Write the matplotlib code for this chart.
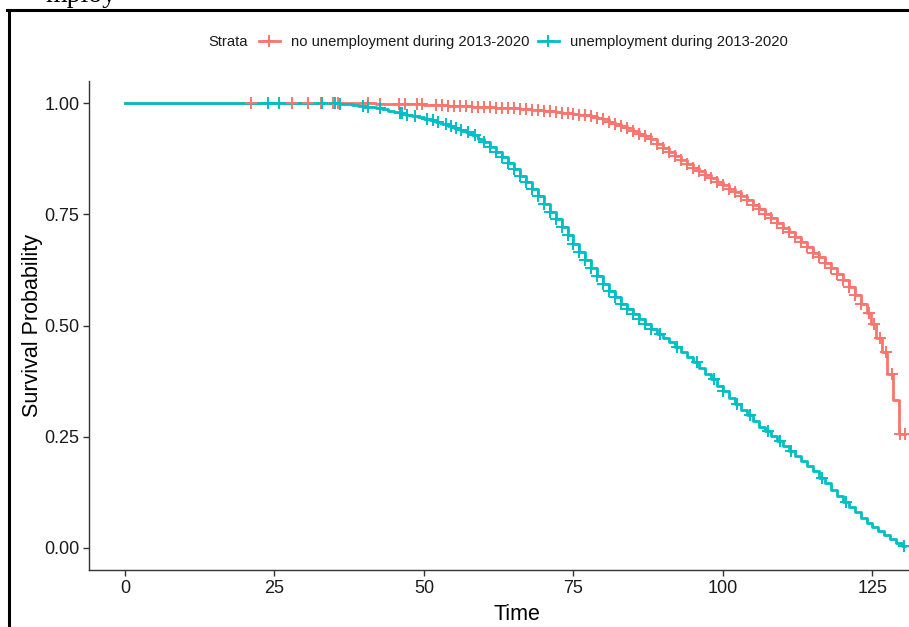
import numpy as np
import matplotlib
matplotlib.use("Agg")
import matplotlib.pyplot as plt
from matplotlib.lines import Line2D

plt.rcParams['font.family'] = ['Liberation Sans', 'DejaVu Sans']

# ---------------- data ----------------
strata_labels = ["no unemployment during 2013-2020", "unemployment during 2013-2020"]
colors = ["#F8766D", "#00BFC4"]

# group 1: no unemployment (step times and survival after the step)
t_no = [0, 40, 42, 44, 46, 48, 50, 52, 54, 56, 58, 60, 62, 64, 66, 68, 70, 71, 72, 73, 74,
        75, 76, 77, 78, 79, 80, 81, 82, 83, 84, 85, 86, 87, 88, 89, 90, 91, 92, 93, 94,
        95, 96, 97, 98, 99, 100, 101, 102, 103, 104, 105, 106, 107, 108, 109, 110, 111,
        112, 113, 114, 115, 116, 117, 118, 119, 120, 121, 122, 123, 124, 124.8, 125.6,
        126.6, 127.5, 128.5, 129.4, 130.5]
s_no = [1.0, 0.999, 0.998, 0.998, 0.997, 0.997, 0.996, 0.995, 0.994, 0.993, 0.992, 0.991,
        0.989, 0.988, 0.986, 0.984, 0.982, 0.981, 0.980, 0.978, 0.977, 0.976, 0.974, 0.972,
        0.970, 0.967, 0.963, 0.958, 0.953, 0.948, 0.943, 0.937, 0.931, 0.925, 0.918, 0.908,
        0.899, 0.890, 0.881, 0.872, 0.863, 0.855, 0.847, 0.839, 0.831, 0.823, 0.815, 0.807,
        0.799, 0.791, 0.781, 0.771, 0.761, 0.751, 0.741, 0.731, 0.720, 0.709, 0.698, 0.687,
        0.676, 0.664, 0.653, 0.641, 0.629, 0.616, 0.603, 0.586, 0.568, 0.548, 0.527, 0.503,
        0.472, 0.440, 0.391, 0.333, 0.256, 0.256]
cens_no = [21, 28, 30.6, 32.8, 34.8, 35.6, 40.6, 42.6, 45.8, 46.8, 48.8, 49.7, 52, 53, 54,
           55, 56, 57, 58, 59, 60, 61, 62, 63, 64, 65, 66, 67, 68, 69, 70, 71, 72, 73, 74,
           75, 76, 77, 78, 79, 80, 81, 82, 83, 84, 85, 86, 87, 88, 89, 90, 91, 92, 93, 94,
           95, 96, 97, 98, 99, 100, 101, 102, 103, 104, 105, 106, 107, 108, 109, 110, 111,
           112, 113, 114, 115, 116, 117, 118, 119, 120, 121, 122, 123, 124.4, 125.3, 126.3,
           127.3, 128.3, 129.6, 130.4]

# group 2: unemployment
t_un = [0, 36, 37, 38, 39, 40, 41, 42, 43, 44, 45, 46, 47, 48, 49, 50, 51, 52, 53, 54, 55,
        56, 57, 58, 59, 60, 61, 62, 63, 64, 65, 66, 67, 68, 69, 70, 71, 72, 73, 74, 75, 76,
        77, 78, 79, 80, 81, 82, 83, 84, 85, 86, 87, 88, 89, 90, 91, 92, 93, 94, 95, 96, 97,
        98, 99, 100, 101, 102, 103, 104, 105, 106, 107, 108, 109, 110, 111, 112, 113, 114,
        115, 116, 117, 118, 119, 120, 121, 122, 123, 124, 125, 126, 127, 128, 129, 130, 130.5]
s_un = [1.0, 0.998, 0.997, 0.996, 0.994, 0.992, 0.990, 0.988, 0.986, 0.983, 0.980, 0.977,
        0.974, 0.971, 0.968, 0.964, 0.961, 0.957, 0.953, 0.949, 0.944, 0.939, 0.934, 0.928,
        0.920, 0.912, 0.902, 0.891, 0.879, 0.866, 0.852, 0.837, 0.822, 0.806, 0.790, 0.773,
        0.756, 0.739, 0.721, 0.703, 0.684, 0.666, 0.648, 0.630, 0.612, 0.594, 0.578, 0.563,
        0.549, 0.537, 0.526, 0.515, 0.504, 0.493, 0.482, 0.472, 0.462, 0.452, 0.441, 0.430,
        0.418, 0.405, 0.392, 0.379, 0.365, 0.352, 0.338, 0.324, 0.311, 0.298, 0.285, 0.273,
        0.262, 0.251, 0.240, 0.229, 0.218, 0.207, 0.196, 0.184, 0.172, 0.158, 0.145, 0.131,
        0.117, 0.104, 0.092, 0.080, 0.068, 0.057, 0.047, 0.038, 0.029, 0.020, 0.012, 0.004,
        0.004]
cens_un = [23.9, 25.8, 33, 35.1, 36, 39.8, 40.6, 42.6, 46, 46.3, 47.1, 48.5, 50.5, 51.5,
           52.4, 53.6, 54.5, 55.3, 56.2, 57.3, 58.5, 60, 61, 62, 63, 64, 65, 66, 67, 68, 69,
           70, 71, 72, 73, 74, 75, 76, 77, 78, 79, 80, 81, 82, 83, 84, 85, 86, 87, 88, 89.5,
           92.3, 95.6, 98.5, 100, 102.3, 104.5, 107.5, 109.5, 111.4, 116.6, 120.6, 130.3]

x_ticks = [0, 25, 50, 75, 100, 125]
y_ticks = [0.00, 0.25, 0.50, 0.75, 1.00]
y_ticklabels = ["0.00", "0.25", "0.50", "0.75", "1.00"]

# ---------------- figure ----------------
W, H = 909, 627
fig = plt.figure(figsize=(W / 100, H / 100), dpi=100)

x0, x1 = -6.02, 137.0
y0, y1 = -0.05, 1.05
px_per_x = 5.98
ax_left = 89
ax_right = ax_left + (x1 - x0) * px_per_x
ax_bottom = 570.25
ax_top = 80.75
ax = fig.add_axes([ax_left / W, (H - ax_bottom) / H,
                   (ax_right - ax_left) / W, (ax_bottom - ax_top) / H])


def surv_at(times, surv, t):
    idx = np.searchsorted(np.asarray(times), t, side='right') - 1
    return np.asarray(surv)[idx]


groups = [(t_no, s_no, cens_no), (t_un, s_un, cens_un)]
for (tt, ss, cc), col in zip(groups, colors):
    ax.step(tt, ss, where='post', color=col, lw=2.0, zorder=2)
for (tt, ss, cc), col in zip(groups, colors):
    ax.plot(cc, surv_at(tt, ss, np.asarray(cc)), ls='none', marker='+', ms=9,
            mew=1.4, color=col, zorder=3)

ax.set_xlim(x0, x1)
ax.set_ylim(y0, y1)
ax.set_xticks(x_ticks)
ax.set_yticks(y_ticks)
ax.set_yticklabels(y_ticklabels)
for s in ['top', 'right']:
    ax.spines[s].set_visible(False)
for s in ['left', 'bottom']:
    ax.spines[s].set_color('#333333')
    ax.spines[s].set_linewidth(1.0)
ax.tick_params(axis='both', direction='out', length=4, width=1.0, color='#333333',
               labelsize=13, labelcolor='#1a1a1a', pad=3)
ax.set_xlabel("Time", fontsize=15.5, color='black', labelpad=5)
ax.set_ylabel("Survival Probability", fontsize=15.5, color='black', labelpad=1)

# legend (horizontal, title inline)
fig.text(208 / W, 1 - 42 / H, "Strata", fontsize=10.6, va='center', ha='left',
         color='#1a1a1a')
handles = [Line2D([], [], color=c, lw=2.0, marker='+', ms=9, mew=1.4) for c in colors]
leg = fig.legend(handles, strata_labels, loc='center left',
                 bbox_to_anchor=(259 / W, 1 - 42 / H), ncol=2, frameon=False,
                 fontsize=10.6, handlelength=1.4, handletextpad=0.75, columnspacing=0.6,
                 borderaxespad=0, borderpad=0)
for t in leg.get_texts():
    t.set_color('#1a1a1a')

# outer frame of the screenshot
fig.add_artist(Line2D([8.5 / W, 8.5 / W], [0, 1 - 9.5 / H], color='black', lw=2.2,
                      transform=fig.transFigure))
fig.add_artist(Line2D([7.5 / W, 1.0], [1 - 9.5 / H, 1 - 9.5 / H], color='black', lw=2.2,
                      transform=fig.transFigure))
# cut-off caption text at the very top
fig.text(45 / W, 1 - 2.0 / H, "mploy", fontsize=20, family='Liberation Serif',
         va='baseline', ha='left', color='black')

fig.savefig("out.png", dpi=100)
